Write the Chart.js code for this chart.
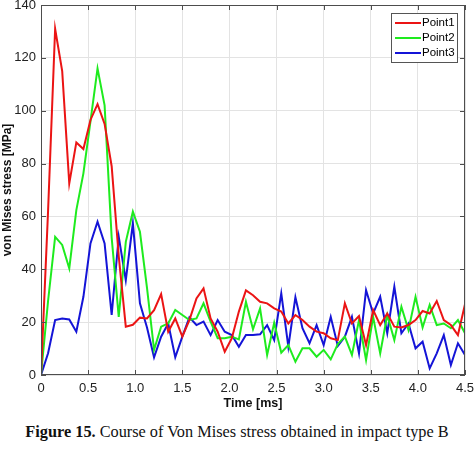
<!DOCTYPE html>
<html>
<head>
<meta charset="utf-8">
<script src="https://cdn.jsdelivr.net/npm/chart.js@4"></script>
<style>
  body { margin: 0; background: #fff; }
  .wrap { position: relative; width: 474px; height: 451px; }
  #chartStress { position: absolute; left: 0; top: 0; }
  .caption { position: absolute; left: 0; top: 422px; width: 474px; text-align: center; white-space: nowrap;
             font-family: 'Liberation Serif', 'Times New Roman', serif; font-size: 16.3px; color: #111; }
</style>
</head>
<body>
<div class="wrap">
  <canvas id="chartStress" width="474" height="415"></canvas>
  <div class="caption"><b>Figure 15.</b> Course of Von Mises stress obtained in impact type B</div>
</div>
<script>
// time steps [ms]
let times = [0,0.075,0.15,0.225,0.3,0.375,0.45,0.525,0.6,0.675,0.75,0.825,0.9,0.975,1.05,1.125,1.2,1.275,1.35,1.425,
             1.5,1.575,1.65,1.725,1.8,1.875,1.95,2.025,2.1,2.175,2.25,2.325,2.4,2.475,2.55,2.625,2.7,2.775,2.85,2.925,
             3,3.075,3.15,3.225,3.3,3.375,3.45,3.525,3.6,3.675,3.75,3.825,3.9,3.975,4.05,4.125,4.2,4.275,4.35,4.425,4.5];
// von Mises stress [MPa]
let point1 = [0,62,131,115,72.5,88,85.5,96.5,102.5,95,79,45,18.3,19,21.7,21.4,24.5,30.6,16.4,21.4,
              14.5,20.8,29,32.8,21.4,16.4,8.8,13.9,24,32,30.2,27.7,27.1,25.2,24,19.5,22.7,20.8,18.3,16.4,
              15.8,13.9,13.2,27.1,19.5,22.3,11.3,24.6,18.9,23.3,18.3,18,18.9,20.8,24.2,23.3,28,20.8,18.9,15.1,26.8];
let point2 = [0,28,52.3,49.2,40.3,62.4,76.3,96,116,102,52,22,50.4,61.8,54.2,33,9.5,18.3,19.5,24.6,
              22.7,20.8,21.4,27.1,20.2,13.9,13.9,14.5,13.5,27.7,17.3,25.2,7.6,19.8,8.4,11.3,5,10.1,10.1,6.9,
              9.5,5.9,11.7,14.5,7.6,20.8,5.7,22,8.2,22.7,13.2,25.8,17,29.6,18,26.5,18.9,19.5,17.7,20.8,15.8];
let point3 = [0,8.2,20.8,21.4,21,16.4,29.6,49.8,58,49.8,22.7,52.3,35.9,57.4,27.1,18,6.7,14.5,19.5,6.7,
              14.5,21.8,18.9,20.2,15.1,20.8,16.4,15.1,10.7,15.1,15.1,15.4,18.9,13.2,30.9,10.7,29.4,17.7,12,18.9,
              11.3,22,11,14.5,22,8.2,32.1,23.3,29.6,15.8,33.4,15.8,19.5,10.1,12.6,2.5,8.2,15.1,3.8,12,7.6];
let seriesNames = ["Point1","Point2","Point3"];
let seriesColors = ['rgb(235,20,20)','rgb(30,235,30)','rgb(20,20,215)'];
let xTicks = [0,0.5,1,1.5,2,2.5,3,3.5,4,4.5];
let yTicks = [0,20,40,60,80,100,120,140];

function toPoints(xs, ys){
    let pts = [];
    for (let i = 0; i < xs.length; i++){
        pts.push({x: xs[i], y: ys[i]});
    }
    return pts;
}

// box round the axes, inward ticks and the legend inside the plot (matlab look)
const matlabFrame = {
    id: 'matlabFrame',
    afterDatasetsDraw(chart){
        const c = chart.ctx;
        const a = chart.chartArea;
        const xs = chart.scales.x, ys = chart.scales.y;
        c.save();
        c.strokeStyle = '#4d4d4d';
        c.lineWidth = 1;
        c.strokeRect(a.left + 0.5, a.top + 0.5, a.right - a.left - 1, a.bottom - a.top - 1);
        c.beginPath();
        xTicks.forEach(v => {
            let px = Math.round(xs.getPixelForValue(v)) + 0.5;
            c.moveTo(px, a.bottom); c.lineTo(px, a.bottom - 5);
            c.moveTo(px, a.top); c.lineTo(px, a.top + 5);
        });
        yTicks.forEach(v => {
            let py = Math.round(ys.getPixelForValue(v)) + 0.5;
            c.moveTo(a.left, py); c.lineTo(a.left + 5, py);
            c.moveTo(a.right, py); c.lineTo(a.right - 5, py);
        });
        c.stroke();

        // legend
        let lx = a.right - 74, ly = a.top + 8;
        c.fillStyle = '#fff';
        c.fillRect(lx, ly, 66, 49);
        c.strokeStyle = '#555';
        c.strokeRect(lx + 0.5, ly + 0.5, 66, 49);
        c.font = '11.5px "Liberation Sans", Arial, sans-serif';
        c.textBaseline = 'middle';
        chart.data.datasets.forEach((ds, i) => {
            let ry = ly + 10 + i * 15;
            c.strokeStyle = ds.borderColor;
            c.lineWidth = 2;
            c.beginPath();
            c.moveTo(lx + 4, ry); c.lineTo(lx + 30, ry);
            c.stroke();
            c.fillStyle = '#000';
            c.fillText(ds.label, lx + 31, ry);
        });
        c.restore();
    }
};

const ctx = document.getElementById('chartStress').getContext('2d');

const data = {
    datasets: seriesNames.map((name, i) => ({
        label: name,
        data: toPoints(times, [point1, point2, point3][i]),
        borderColor: seriesColors[i],
        backgroundColor: seriesColors[i],
        borderWidth: 2,
        pointRadius: 0,
        tension: 0,
    }))
};

const config = {
    type: 'line',
    data: data,
    options: {
        responsive: false,
        animation: false,
        layout: { padding: { top: 5, right: 9, left: 0, bottom: 0 } },
        plugins: {
            legend: { display: false },
            tooltip: { enabled: false }
        },
        scales: {
            x: {
                type: 'linear',
                min: 0, max: 4.5,
                afterBuildTicks: s => { s.ticks = xTicks.map(v => ({value: v})); },
                afterFit: s => { s.height = 40; s.paddingLeft = 0; s.paddingRight = 0; },
                grid: { color: '#e3e3e3', drawTicks: false },
                border: { display: false },
                ticks: { color: '#222', padding: 6, maxRotation: 0,
                         font: { family: '"Liberation Sans", Arial, sans-serif', size: 13 } },
                title: { display: true, text: 'Time [ms]', color: '#111', padding: { top: 0, bottom: 4 },
                         font: { family: '"Liberation Sans", Arial, sans-serif', size: 12.5, weight: 'bold' } }
            },
            y: {
                min: 0, max: 140,
                afterBuildTicks: s => { s.ticks = yTicks.map(v => ({value: v})); },
                afterFit: s => { s.width = 41; s.paddingTop = 0; s.paddingBottom = 0; },
                grid: { color: '#e3e3e3', drawTicks: false },
                border: { display: false },
                ticks: { color: '#222', padding: 5,
                         font: { family: '"Liberation Sans", Arial, sans-serif', size: 13 } },
                title: { display: true, text: 'von Mises stress [MPa]', color: '#111', padding: 0,
                         font: { family: '"Liberation Sans", Arial, sans-serif', size: 12, weight: 'bold' } }
            }
        }
    },
    plugins: [matlabFrame]
};

new Chart(ctx, config);
</script>
</body>
</html>
